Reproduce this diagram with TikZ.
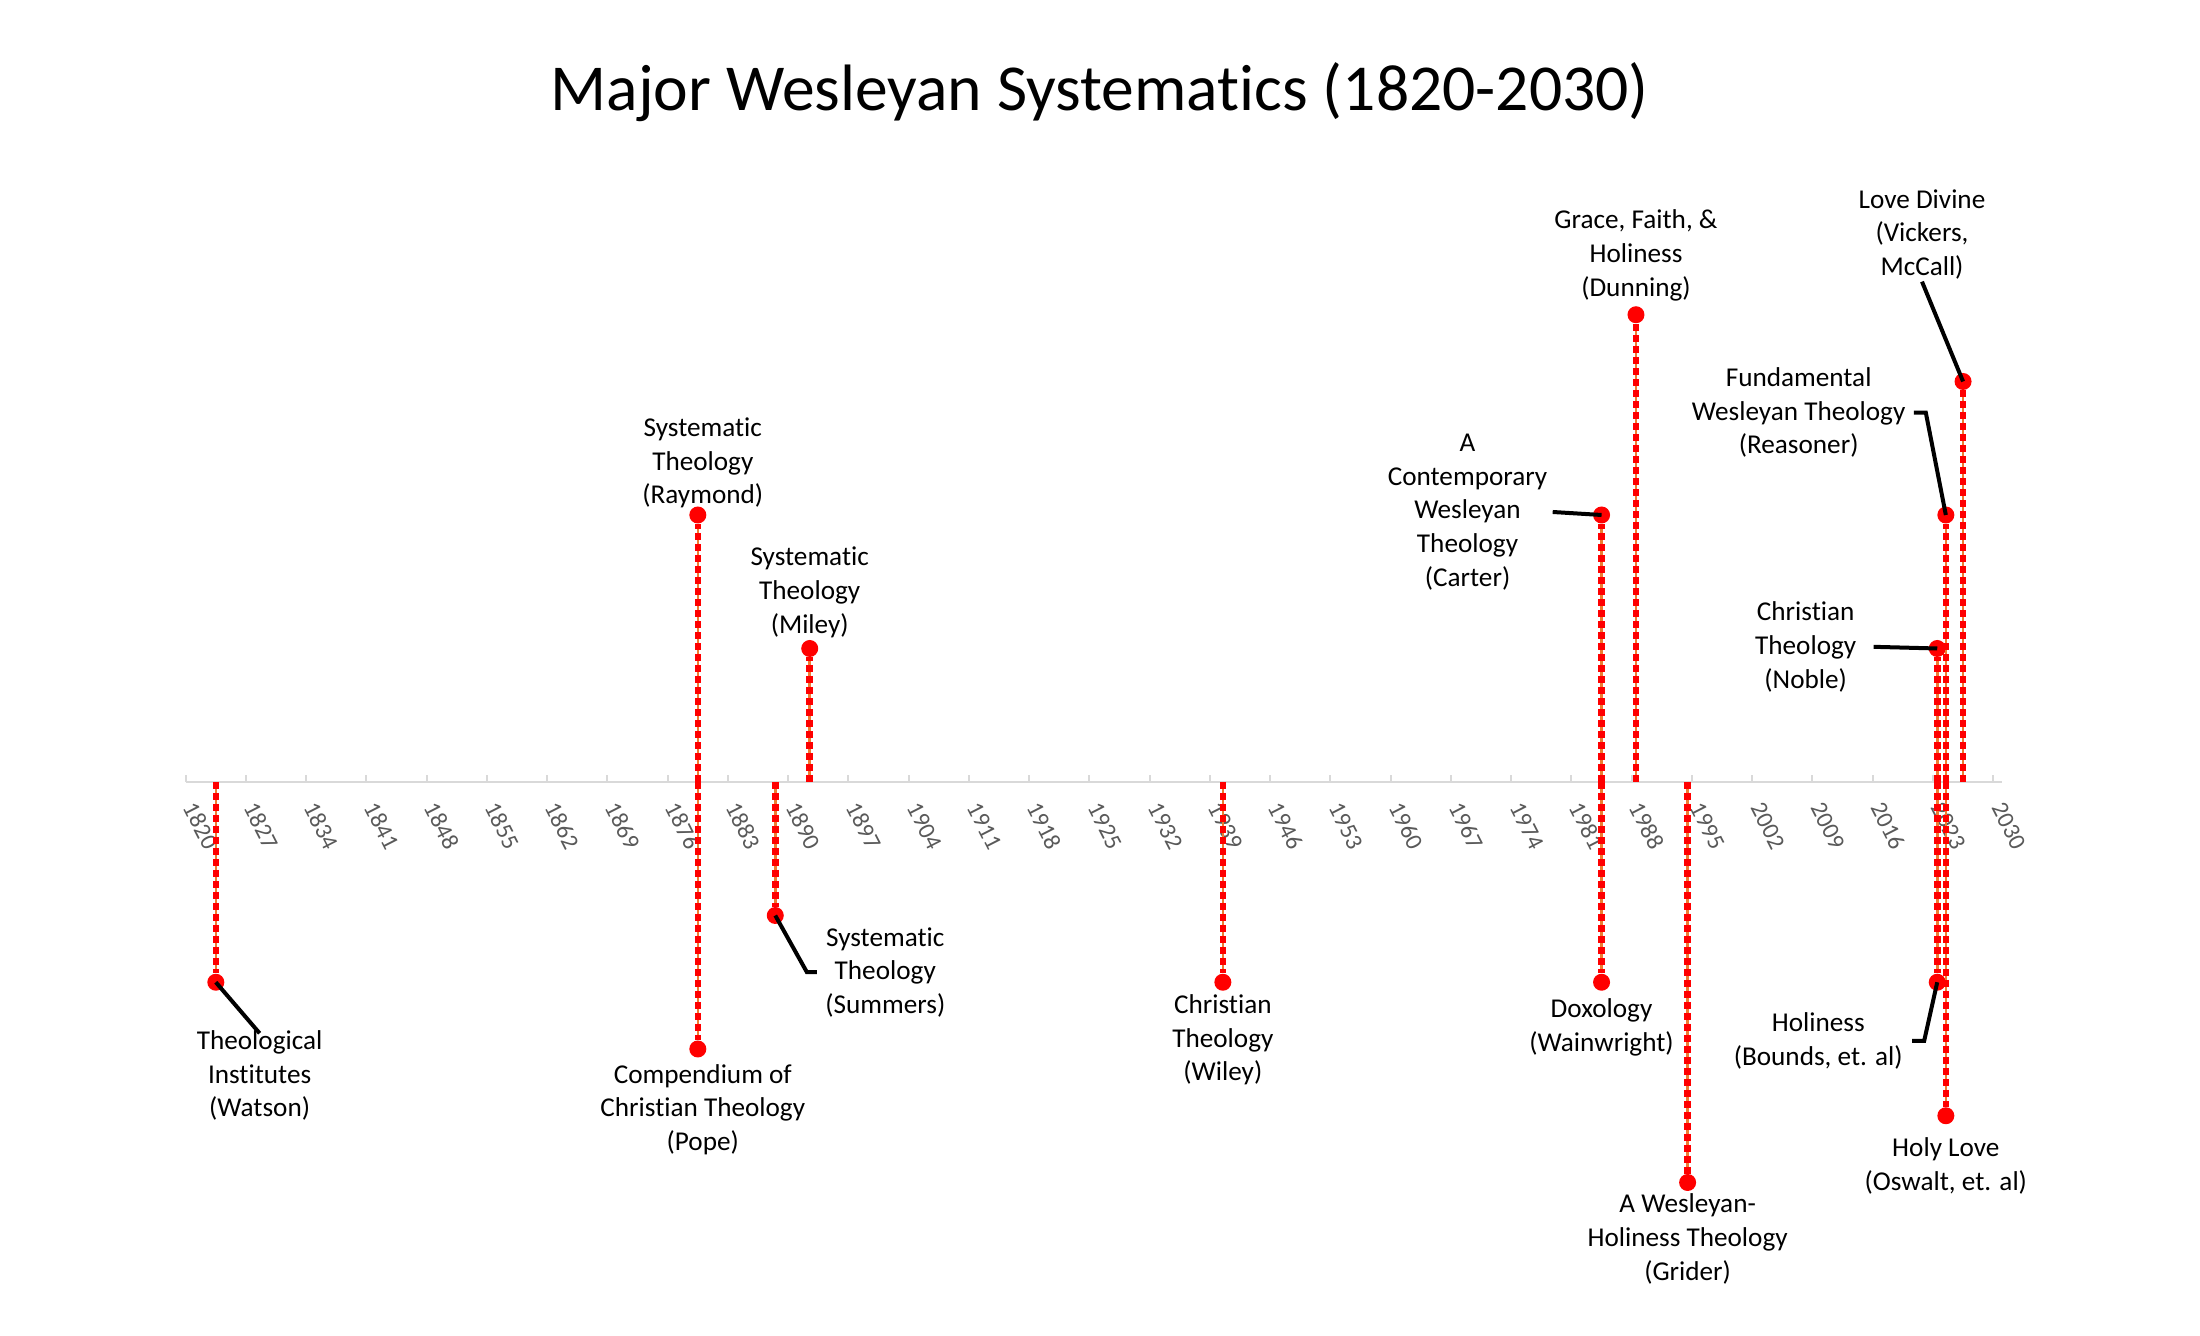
\documentclass[tikz,border=0pt]{standalone}
\usepackage{fontspec}
\setmainfont{Carlito}[Ligatures=NoCommon]
\usetikzlibrary{positioning}
\definecolor{dotred}{HTML}{FF0000}
\definecolor{stemorange}{HTML}{ED7D31}
\definecolor{axisgrey}{HTML}{D9D9D9}
\definecolor{yeargrey}{HTML}{595959}
\begin{document}
\begin{tikzpicture}[x=4.3035pt, y=33.375pt,
        dot/.style={circle, fill=dotred, inner sep=0pt, minimum size=8.5pt},
        stem/.style={draw=stemorange, line width=1.3pt,
            postaction={draw=dotred, line width=3.3pt, dash pattern=on 3.3pt off 2.2pt}},
        leader/.style={draw=black, line width=2pt},
        lbl/.style={align=center, inner sep=1pt, font=\fontsize{13.6}{16.85}\selectfont},
        yearlbl/.style={anchor=north west, rotate=-63, inner sep=0pt, text=yeargrey,
            font=\fontsize{12}{14}\selectfont}]
    \useasboundingbox (-92.85pt,-277pt) rectangle (1007.15pt,391pt);
    \node[anchor=base, font=\fontsize{32.8}{38}\selectfont] (title) at (106.2,10.06)
        {Major Wesleyan Systematics (1820-2030)};

    % axis, a tick every 7 years
    \coordinate (o) at (0,0);
    \draw[axisgrey, line width=1pt] (o) -- (211,0);
    \foreach \yr [evaluate=\yr as \xx using int(\yr-1820)] in {1820,1827,...,2030} {
        \draw[axisgrey, line width=1pt] (\xx,0) -- ++(0pt,3.5pt);
        \node[xshift=6pt, yshift=-9pt, yearlbl] (yl\yr) at (\xx,0) {\yr};
    }

    % books: x = years since 1820, y = height of the stem
    \node[dot] (watson) at (3.5,-3) {};
    \node[dot] (raymond) at (59.5,4) {};
    \node[dot] (pope) at (59.5,-4) {};
    \node[dot] (summers) at (68.5,-2) {};
    \node[dot] (miley) at (72.5,2) {};
    \node[dot] (wiley) at (120.5,-3) {};
    \node[dot] (carter) at (164.5,4) {};
    \node[dot] (wainwright) at (164.5,-3) {};
    \node[dot] (dunning) at (168.5,7) {};
    \node[dot] (grider) at (174.5,-6) {};
    \node[dot] (noble) at (203.5,2) {};
    \node[dot] (bounds) at (203.5,-3) {};
    \node[dot] (reasoner) at (204.5,4) {};
    \node[dot] (oswalt) at (204.5,-5) {};
    \node[dot] (vickers) at (206.5,6) {};
    \foreach \b in {watson,raymond,pope,summers,miley,wiley,carter,wainwright,
        dunning,grider,noble,bounds,reasoner,oswalt,vickers}
        \draw[stem] (\b |- o) -- (\b);

    % labels
    \node[lbl, above=-2.25pt of raymond, xshift=2.5pt] (raymondlbl) {Systematic\\Theology\\(Raymond)};
    \node[lbl, below=2pt of pope, xshift=2.5pt] (popelbl) {Compendium of\\Christian Theology\\(Pope)};
    \node[lbl, above=-0.25pt of miley] (mileylbl) {Systematic\\Theology\\(Miley)};
    \node[lbl, below=0.5pt of wiley] (wileylbl) {Christian\\Theology\\(Wiley)};
    \node[lbl, below=2.5pt of wainwright] (wainwrightlbl) {Doxology\\(Wainwright)};
    \node[lbl, above=1.2pt of dunning] (dunninglbl) {Grace, Faith, \&\\Holiness\\(Dunning)};
    \node[lbl, below=0pt of grider] (griderlbl) {A Wesleyan-\\Holiness Theology\\(Grider)};
    \node[lbl, below=5.5pt of oswalt] (oswaltlbl) {Holy Love\\(Oswalt, et. al)};
    \node[lbl] (watsonlbl) at (8.59,-4.40) {Theological\\Institutes\\(Watson)};
    \node[lbl] (summerslbl) at (81.28,-2.85) {Systematic\\Theology\\(Summers)};
    \node[lbl] (carterlbl) at (148.93,4.045) {A\\Contemporary\\Wesleyan\\Theology\\(Carter)};
    \node[lbl] (noblelbl) at (188.22,2.025) {Christian\\Theology\\(Noble)};
    \node[lbl] (reasonerlbl) at (187.4,5.535) {Fundamental\\Wesleyan Theology\\(Reasoner)};
    \node[lbl] (boundslbl) at (189.68,-3.88) {Holiness\\(Bounds, et. al)};
    \node[lbl] (vickerslbl) at (201.73,8.205) {Love Divine\\(Vickers,\\McCall)};

    % leader lines
    \draw[leader] (watson.center) -- ([yshift=-2.5pt]watsonlbl.north);
    \draw[leader] (summers.center) -- ([xshift=-8pt]summerslbl.west) -- ([xshift=-3pt]summerslbl.west);
    \draw[leader] ([xshift=1.5pt]carterlbl.east) -- (carter.center);
    \draw[leader] ([xshift=7.5pt]noblelbl.east) -- (noble.center);
    \draw[leader] ([xshift=3pt]reasonerlbl.east) -- ([xshift=9pt]reasonerlbl.east) -- (reasoner.center);
    \draw[leader] ([xshift=3.5pt]boundslbl.east) -- ([xshift=9.5pt]boundslbl.east) -- (bounds.center);
    \draw[leader] (vickerslbl.south) -- (vickers.center);
\end{tikzpicture}
\end{document}
